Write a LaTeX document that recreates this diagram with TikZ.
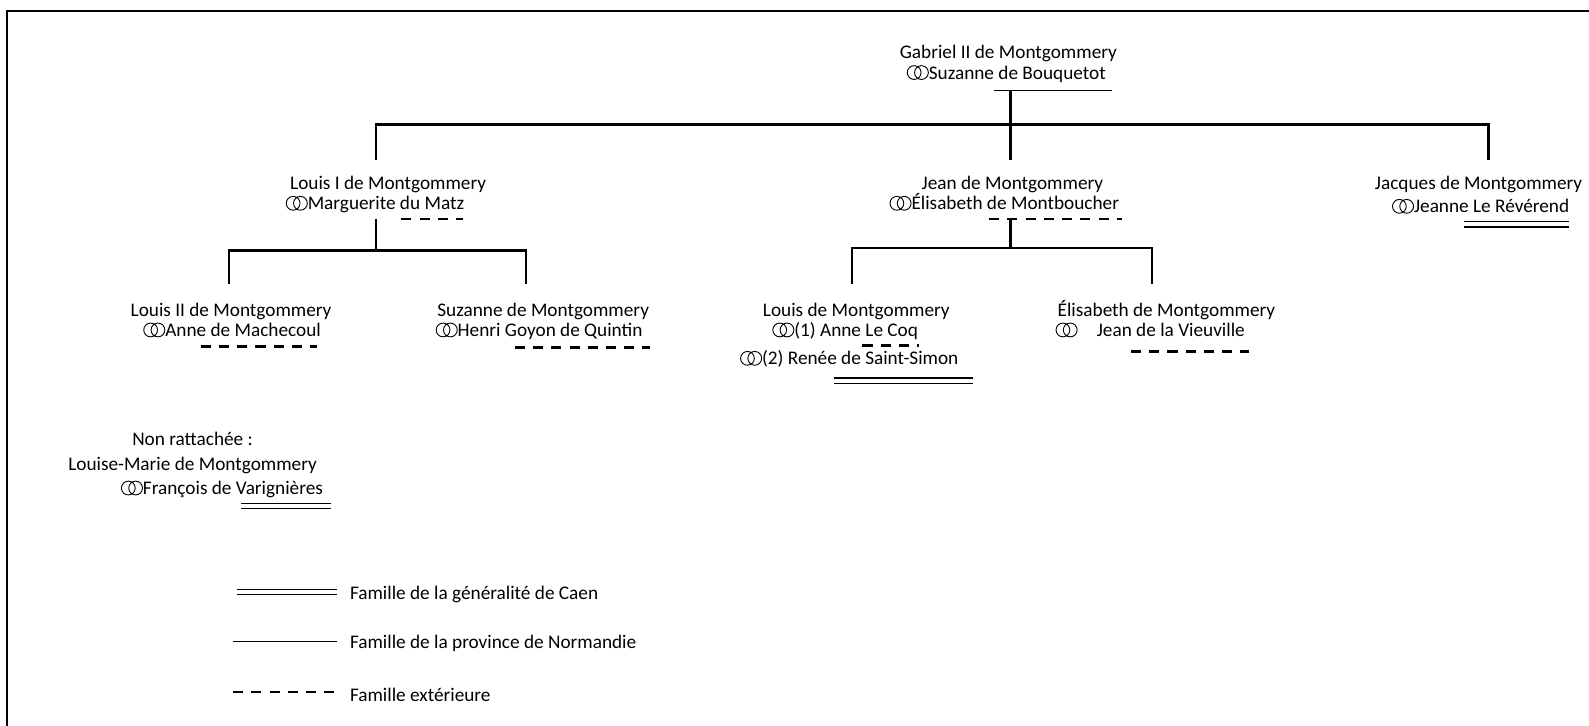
\documentclass[tikz,border=0pt]{standalone}
\usepackage{fontspec}
\setmainfont{Carlito}
\newcommand{\wed}{\tikz[baseline=0pt, x=1pt, y=1pt, line width=0.45pt]{\draw (3.4,3.2) circle (3.4pt) (7.0,3.2) circle (3.4pt);}}
\begin{document}
\begin{tikzpicture}[x=0.5pt,y=-0.5pt,
	txt/.style={font=\fontsize{9.5}{11}\selectfont, inner sep=0pt, anchor=base},
	legtxt/.style={txt, anchor=base west},
	tree/.style={line width=1.2pt},
	prov/.style={line width=0.5pt},
	caen/.style={double, double distance=2pt, line width=0.5pt},
	ext/.style={line width=1.2pt, dash pattern=on 5pt off 4pt}]
\useasboundingbox (0,0) rectangle (1568,716);
% cadre
\draw[line width=1pt] (7,716) -- (7,11) -- (1568,11);

% Gabriel II
\node[txt] (gabriel) at (995,58) {Gabriel II de Montgommery};
\node[txt] (gabrielw) at (993,78) {\wed Suzanne de Bouquetot};
\draw[prov] (981,89) -- (1097,89);

% enfants
\node[txt] (louisI) at (383,187) {Louis I de Montgommery};
\node[txt] (louisIw) at (370,207) {\wed Marguerite du Matz};
\draw[ext] (396,216) -- (457,216);
\node[txt] (jean) at (999,187) {Jean de Montgommery};
\node[txt] (jeanw) at (991,207) {\wed Élisabeth de Montboucher};
\draw[ext] (976,216) -- (1107,216);
\node[txt] (jacques) at (1459,187) {Jacques de Montgommery};
\node[txt] (jacquesw) at (1461,210) {\wed Jeanne Le Révérend};
\draw[caen] (1445,221.5) -- (1548,221.5);

% petits-enfants
\node[txt] (louisII) at (228,312) {Louis II de Montgommery};
\node[txt] (louisIIw) at (229,332) {\wed Anne de Machecoul};
\draw[ext] (198,342) -- (313,342);
\node[txt] (suzanne) at (536,312) {Suzanne de Montgommery};
\node[txt] (suzannew) at (532,332) {\wed Henri Goyon de Quintin};
\draw[ext] (508,343) -- (641,343);
\node[txt] (louis) at (845,312) {Louis de Montgommery};
\node[txt] (louisw) at (834,332) {\wed(1) Anne Le Coq};
\draw[ext] (851,341) -- (907,341);
\node[txt] (louiswb) at (838,360) {\wed(2) Renée de Saint-Simon};
\draw[caen] (823,375.5) -- (960,375.5);
\node[txt] (elisabeth) at (1151,312) {Élisabeth de Montgommery};
\node[txt] (elisabethw) at (1135,332) {\wed\quad Jean de la Vieuville};
\draw[ext] (1116,347) -- (1232,347);

% non rattachee
\node[txt] (nonr) at (190,440) {Non rattachée :};
\node[txt] (louise) at (190,464) {Louise-Marie de Montgommery};
\node[txt] (louisew) at (219,488) {\wed François de Varignières};
\draw[caen] (238,499.5) -- (327,499.5);

% arbre
\coordinate (gtop) at (997,90);
\coordinate (gbar) at (997,123);
\coordinate (cLouisI) at (371,158);
\coordinate (cJean) at (997,158);
\coordinate (cJacques) at (1469,158);
\draw[tree] (gtop) -- (gbar);
\draw[tree] (cLouisI) |- (gbar) -| (cJacques);
\draw[tree] (gbar) -- (cJean);

\coordinate (lItop) at (371,216);
\coordinate (lIbar) at (371,247);
\coordinate (cLouisII) at (226,280);
\coordinate (cSuzanne) at (519,280);
\draw[tree] (lItop) -- (lIbar);
\draw[tree] (cLouisII) |- (lIbar) -| (cSuzanne);

\coordinate (jtop) at (997,216);
\coordinate (jbar) at (997,245);
\coordinate (cLouis) at (841,280);
\coordinate (cElisabeth) at (1137,280);
\draw[tree] (jtop) -- (jbar);
\draw[tree] (cLouis) |- (jbar) -| (cElisabeth);

% legende
\draw[caen] (234,584) -- (333,584);
\node[legtxt] (legcaen) at (345,592) {Famille de la généralité de Caen};
\draw[prov] (230,633) -- (333,633);
\node[legtxt] (legprov) at (345,640) {Famille de la province de Normandie};
\draw[ext] (230,683) -- (333,683);
\node[legtxt] (legext) at (345,692) {Famille extérieure};
\end{tikzpicture}
\end{document}
